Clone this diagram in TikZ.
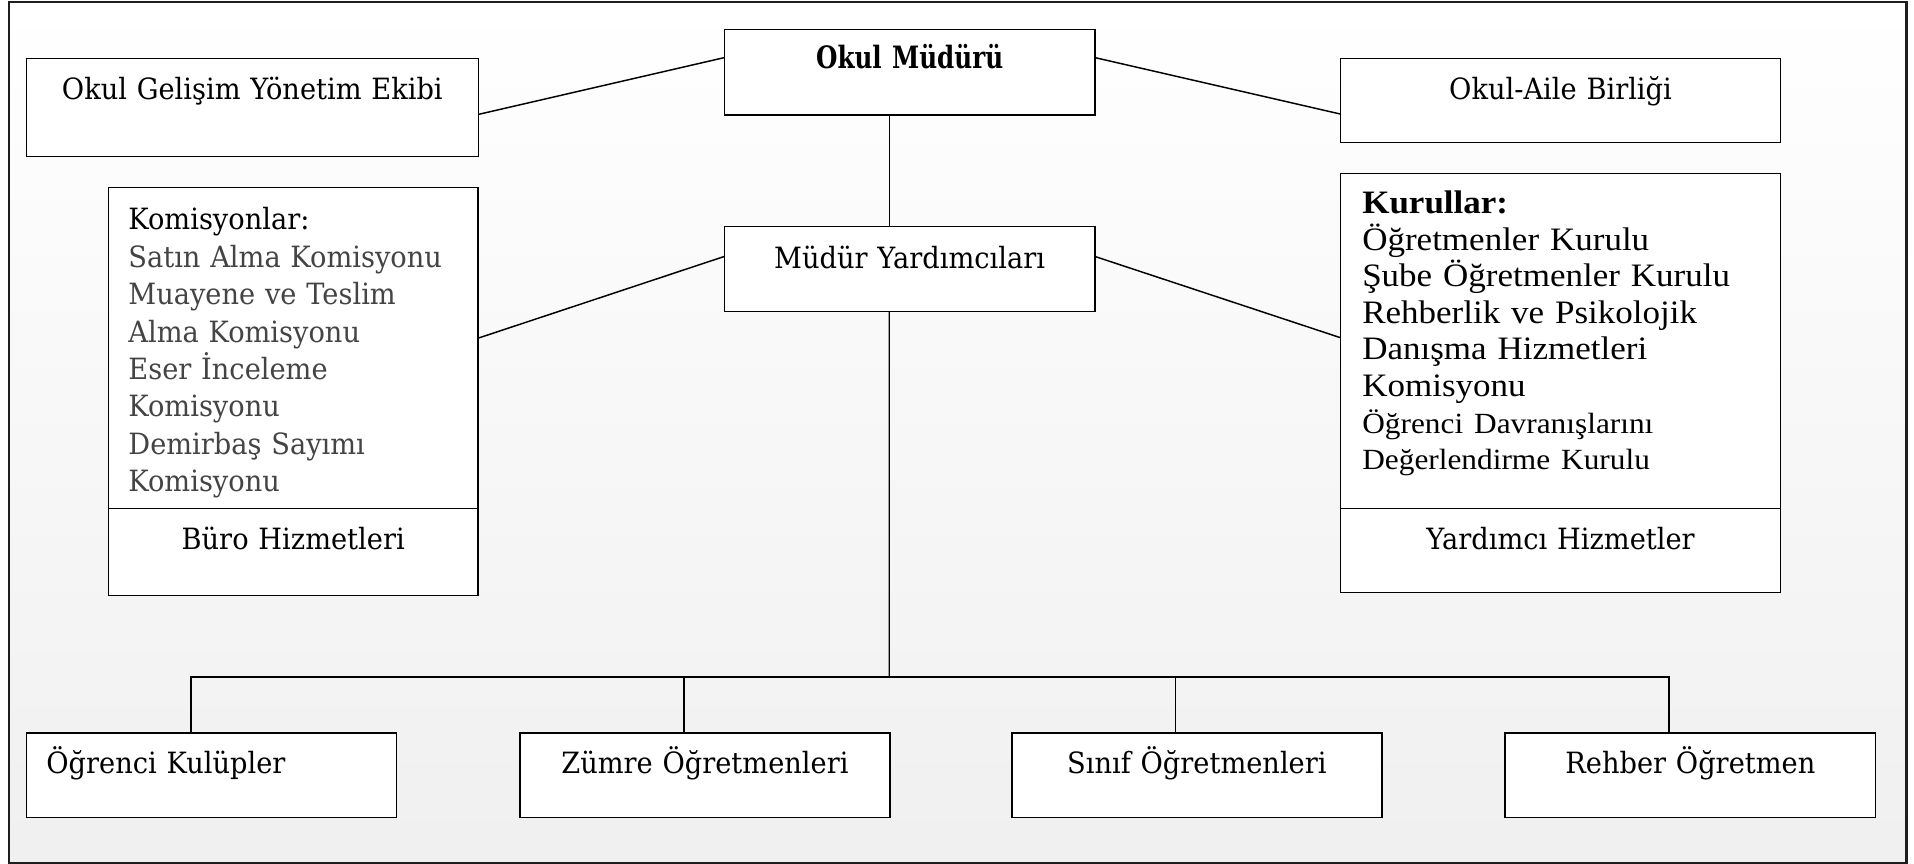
\documentclass[tikz,border=0pt]{standalone}
\usepackage{fontspec}
\setmainfont{DejaVu Serif}[FakeStretch=0.93]
\newfontfamily\kalin{DejaVu Serif}[FakeStretch=0.8]
\newfontfamily\gurul{Liberation Serif}[FakeStretch=1.07]
\usetikzlibrary{calc}
\definecolor{griyazi}{HTML}{444444}
\definecolor{cerceve}{HTML}{1E1E1E}

\tikzset{
  kutu/.style={draw, fill=white, line width=0.6pt, anchor=north west,
    inner sep=0pt, outer sep=0pt, align=center,
    font=\fontsize{12}{15.3}\selectfont},
  sol/.style={align=left, inner xsep=8.2pt},
  hat/.style={line width=0.6pt}
}

\begin{document}
\begin{tikzpicture}[x=0.5pt,y=-0.5pt]
          \useasboundingbox (0,0) rectangle (1568,707.8);
          \shade[top color=white, bottom color=black!6] (7.5,1.5) rectangle (1562,707);
          \draw[cerceve, line width=1pt] (7.5,1.5) rectangle (1562,707);
          % ust sira
          \node[kutu, text width=151.7pt, text height=16.25pt, text depth=18.85pt,
            font=\kalin\bfseries\fontsize{12.6}{15}\selectfont] (mudur) at (593.5,24) {Okul Müdürü};
          \node[kutu, text width=185.1pt, text height=16.65pt, text depth=23.65pt] (gelisim) at (21.6,47.8) {Okul Gelişim Yönetim Ekibi};
          \node[kutu, text width=180.4pt, text height=16.65pt, text depth=17.9pt] (aile) at (1098,47.8) {Okul-Aile Birliği};
          % orta sira
          \node[kutu, text width=151.7pt, text height=17pt, text depth=17.8pt] (yardimci) at (593.5,185.7) {Müdür Yardımcıları};
          \node[kutu, sol, text width=135pt, text height=17.45pt, text depth=114pt] (komisyon) at (88.8,153.5)
            {Komisyonlar:\\ {\color{griyazi}Satın Alma Komisyonu\\ Muayene ve Teslim\\ Alma Komisyonu\\ Eser İnceleme\\ Komisyonu\\ Demirbaş Sayımı\\ Komisyonu}};
          \node[kutu, text width=151.4pt, text height=16.8pt, text depth=19pt] (buro) at (88.8,416.4) {Büro Hizmetleri};
          \node[kutu, sol, inner xsep=9pt, text width=162.4pt, text height=16.25pt, text depth=120.8pt,
            font=\gurul\fontsize{13.4}{15}\selectfont] (kurul) at (1098,142.3)
            {\textbf{Kurullar:}\\ Öğretmenler Kurulu\\ Şube Öğretmenler Kurulu\\ Rehberlik ve Psikolojik\\ Danışma Hizmetleri\\ Komisyonu\\
             {\fontsize{12}{15}\selectfont Öğrenci Davranışlarını\\ Değerlendirme Kurulu}};
          \node[kutu, text width=180.4pt, text height=16.8pt, text depth=17.75pt] (hizmet) at (1098,416.4) {Yardımcı Hizmetler};
          % alt sira
          \node[kutu, sol, text width=135.1pt, text height=16.75pt, text depth=17.9pt] (kulup) at (21.6,600.5) {Öğrenci Kulüpler};
          \node[kutu, text width=151.5pt, text height=16.75pt, text depth=17.9pt] (zumre) at (426,600.5) {Zümre Öğretmenleri};
          \node[kutu, text width=151.5pt, text height=16.75pt, text depth=17.9pt] (sinif) at (829,600.5) {Sınıf Öğretmenleri};
          \node[kutu, text width=151.8pt, text height=16.75pt, text depth=17.9pt] (rehber) at (1233,600.5) {Rehber Öğretmen};
          % baglantilar
          \coordinate (bus) at (728.5,554.6);
          \draw[hat] ($(mudur.north west)!0.33!(mudur.south west)$) -- ($(gelisim.north east)!0.57!(gelisim.south east)$);
          \draw[hat] ($(mudur.north east)!0.33!(mudur.south east)$) -- ($(aile.north west)!0.66!(aile.south west)$);
          \draw[hat] ([xshift=-8.35pt]mudur.south) -- ([xshift=-8.35pt]yardimci.north);
          \draw[hat] ($(yardimci.north west)!0.35!(yardimci.south west)$) -- ($(komisyon.north east)!0.47!(komisyon.south east)$);
          \draw[hat] ($(yardimci.north east)!0.35!(yardimci.south east)$) -- ($(kurul.north west)!0.49!(kurul.south west)$);
          \draw[hat] ([xshift=-8.35pt]yardimci.south) -- (bus);
          \draw[hat] ([xshift=-8.3pt]kulup.north) |- ([xshift=-8.8pt]rehber.north |- bus) -- ([xshift=-8.8pt]rehber.north);
          \draw[hat] ([xshift=-8.6pt]zumre.north) -- ([xshift=-8.6pt]zumre.north |- bus);
          \draw[hat] ([xshift=-8.7pt]sinif.north) -- ([xshift=-8.7pt]sinif.north |- bus);
\end{tikzpicture}
\end{document}
